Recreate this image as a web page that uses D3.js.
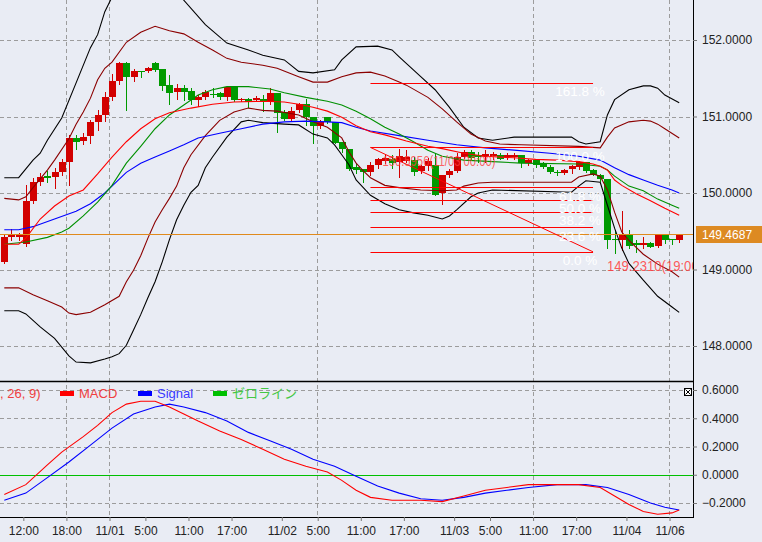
<!DOCTYPE html>
<html><head><meta charset="utf-8">
<script src="https://cdn.jsdelivr.net/npm/d3@7"></script>
<style>
html,body{margin:0;padding:0;background:#e9ecf4;}
svg{display:block;}
text{font-family:"Liberation Sans","Noto Sans CJK JP",sans-serif;}
</style></head><body>
<svg id="c" width="762" height="542"></svg>
<script>
// ---------- DATA (hourly USD/JPY candles, index 0..94) ----------
const opens = [149.10,149.42,149.43,149.33,149.90,150.15,150.22,150.21,150.28,150.41,
150.72,150.68,150.74,150.93,151.02,151.26,151.46,151.70,151.52,151.59,
151.59,151.70,151.62,151.41,151.32,151.37,151.33,151.22,151.25,151.30,
151.31,151.26,151.38,151.22,151.23,151.21,151.23,151.19,151.31,151.06,
150.97,151.08,151.16,151.00,150.88,151.00,150.93,150.67,150.58,150.34,
150.31,150.28,150.36,150.42,150.45,150.41,150.42,150.43,150.29,150.35,
150.37,150.00,150.24,150.29,150.47,150.53,150.50,150.47,150.48,150.50,
150.47,150.47,150.50,150.39,150.43,150.39,150.34,150.28,150.26,150.31,
150.34,150.40,150.30,150.24,150.18,149.40,149.39,149.47,149.34,149.32,
149.35,149.31,149.46,149.40,149.38];
const highs = [149.45,149.53,149.48,150.10,150.20,150.26,150.29,150.33,150.44,150.76,
150.76,150.78,150.96,151.08,151.32,151.56,151.71,151.71,151.62,151.59,
151.65,151.71,151.62,151.54,151.43,151.41,151.37,151.28,151.35,151.37,
151.32,151.40,151.38,151.24,151.24,151.27,151.28,151.37,151.31,151.08,
151.13,151.18,151.23,151.00,150.95,151.00,150.93,150.67,150.58,150.39,
150.31,150.40,150.46,150.50,150.50,150.58,150.56,150.47,150.36,150.46,
150.52,150.24,150.31,150.52,150.56,150.56,150.53,150.56,150.53,150.52,
150.52,150.52,150.50,150.45,150.45,150.41,150.36,150.30,150.31,150.37,
150.42,150.41,150.31,150.25,150.18,149.52,149.76,149.51,149.38,149.43,
149.36,149.47,149.46,149.40,149.47];
const lows = [149.09,149.39,149.39,149.31,149.87,150.10,150.15,150.07,150.24,150.10,
150.58,150.64,150.65,150.82,150.94,151.22,151.42,151.08,151.47,151.51,
151.58,151.59,151.34,151.16,151.23,151.21,151.16,151.14,151.23,151.25,
151.23,151.22,151.20,151.20,151.13,151.20,151.07,151.16,150.80,150.95,
150.95,151.06,150.89,150.66,150.85,150.91,150.65,150.53,150.30,150.26,
150.14,150.24,150.33,150.39,150.33,150.21,150.40,150.24,150.26,150.30,
149.97,149.85,150.21,150.27,150.46,150.44,150.41,150.41,150.45,150.44,
150.45,150.45,150.34,150.37,150.34,150.33,150.26,150.24,150.25,150.26,
150.32,150.28,150.23,150.16,149.28,149.21,149.25,149.28,149.23,149.28,
149.29,149.30,149.34,149.33,149.36];
const closes = [149.42,149.45,149.46,149.90,150.15,150.21,150.20,150.28,150.41,150.72,
150.67,150.73,150.93,151.02,151.26,151.46,151.70,151.51,151.59,151.58,
151.64,151.61,151.40,151.31,151.37,151.32,151.21,151.25,151.32,151.29,
151.25,151.38,151.21,151.23,151.19,151.24,151.19,151.31,151.05,150.97,
151.07,151.16,150.99,150.87,150.93,150.93,150.66,150.57,150.31,150.30,
150.27,150.36,150.44,150.46,150.39,150.48,150.47,150.27,150.35,150.42,
149.97,150.24,150.29,150.47,150.53,150.46,150.47,150.51,150.51,150.45,
150.50,150.50,150.39,150.43,150.37,150.34,150.27,150.26,150.30,150.35,
150.40,150.29,150.24,150.18,149.39,149.39,149.47,149.31,149.32,149.34,
149.30,149.46,149.39,149.38,149.4687];

// indicator lines: [candle index, value]
const bbUpper2 = [[0,150.20],[2,150.20],[4,150.43],[5,150.52],[6,150.69],[8,150.98],[10,151.44],[12,151.90],[13,152.07],[14,152.37],[15,152.56],[18,152.92],[21,152.98],[24,152.65],[25,152.52],[28,152.20],[31,151.96],[34,151.87],[36,151.80],[39,151.74],[41,151.59],[43,151.57],[46,151.61],[47,151.74],[49,151.91],[52,151.92],[54,151.87],[55,151.78],[58,151.52],[60,151.35],[62,151.12],[64,150.86],[66,150.72],[68,150.69],[71,150.73],[79,150.73],[80,150.67],[81,150.64],[83,150.67],[84,151.02],[85,151.22],[87,151.35],[89,151.40],[90,151.40],[91,151.37],[92,151.28],[94,151.18]];
const bbUpper1 = [[0,149.93],[2,149.91],[3,149.95],[4,150.07],[6,150.30],[7,150.43],[9,150.71],[10,150.90],[11,151.06],[12,151.24],[13,151.48],[14,151.63],[15,151.71],[17,151.97],[19,152.10],[21,152.18],[23,152.12],[25,152.08],[27,151.97],[29,151.87],[31,151.76],[33,151.71],[36,151.67],[38,151.63],[41,151.52],[43,151.45],[45,151.45],[47,151.52],[49,151.57],[51,151.58],[53,151.53],[55,151.45],[56,151.41],[59,151.25],[61,151.10],[63,150.93],[65,150.77],[67,150.68],[69,150.64],[72,150.63],[80,150.61],[83,150.59],[84,150.73],[85,150.85],[87,150.93],[89,150.95],[90,150.94],[91,150.90],[92,150.84],[94,150.72]];
const bbLower1 = [[0,148.76],[2,148.76],[4,148.67],[6,148.59],[8,148.51],[9,148.43],[10,148.41],[12,148.44],[14,148.54],[16,148.65],[17,148.84],[18,148.99],[19,149.18],[20,149.41],[21,149.62],[22,149.78],[23,149.93],[24,150.09],[25,150.33],[26,150.50],[28,150.75],[30,150.95],[32,151.06],[34,151.11],[36,151.08],[38,151.07],[41,151.02],[43,150.93],[45,150.86],[47,150.72],[48,150.54],[49,150.39],[50,150.29],[51,150.20],[53,150.10],[55,150.07],[58,150.04],[61,150.03],[63,150.04],[64,150.09],[66,150.13],[68,150.14],[79,150.14],[80,150.21],[82,150.25],[83,150.22],[84,150.04],[85,149.75],[86,149.49],[87,149.38],[89,149.20],[91,149.07],[93,148.97],[94,148.90]];
const bbLower2 = [[0,148.46],[2,148.46],[3,148.42],[5,148.25],[7,148.10],[9,147.87],[10,147.79],[12,147.78],[14,147.83],[15,147.86],[16,147.90],[17,148.01],[18,148.21],[19,148.41],[20,148.63],[21,148.84],[22,149.10],[23,149.39],[24,149.65],[25,149.84],[26,150.01],[27,150.10],[28,150.33],[29,150.47],[31,150.73],[33,150.93],[34,150.95],[36,150.92],[39,150.90],[41,150.89],[43,150.77],[45,150.72],[46,150.63],[47,150.50],[48,150.37],[49,150.17],[51,149.97],[53,149.86],[55,149.78],[57,149.74],[59,149.71],[61,149.66],[62,149.70],[63,149.78],[65,149.95],[66,150.00],[68,150.04],[79,150.01],[80,150.09],[81,150.16],[83,150.14],[84,149.84],[85,149.54],[86,149.28],[87,149.08],[89,148.86],[91,148.65],[93,148.51],[94,148.44]];
const maFast = [[0,149.33],[2,149.33],[3,149.41],[5,149.66],[7,149.83],[9,149.96],[11,150.04],[13,150.25],[15,150.47],[17,150.67],[19,150.84],[21,150.97],[23,151.05],[26,151.11],[29,151.16],[32,151.19],[36,151.20],[39,151.19],[41,151.16],[43,151.12],[45,151.07],[47,150.99],[49,150.88],[51,150.80],[53,150.76],[56,150.68],[59,150.61],[61,150.58],[64,150.52],[67,150.48],[71,150.46],[74,150.44],[77,150.43],[80,150.41],[82,150.38],[83,150.35],[84,150.30],[85,150.17],[86,150.10],[88,149.99],[90,149.90],[92,149.80],[94,149.71]];
const maMid = [[0,149.33],[3,149.36],[6,149.42],[8,149.49],[9,149.54],[11,149.70],[13,149.88],[15,150.10],[17,150.39],[19,150.61],[21,150.84],[23,151.02],[25,151.15],[27,151.28],[29,151.35],[31,151.39],[34,151.39],[37,151.36],[39,151.31],[42,151.25],[45,151.20],[47,151.15],[49,151.07],[51,150.97],[53,150.86],[55,150.77],[57,150.67],[59,150.56],[61,150.48],[64,150.43],[68,150.41],[72,150.39],[80,150.38],[83,150.35],[84,150.30],[85,150.22],[87,150.09],[89,150.03],[91,149.92],[93,149.84],[94,149.80]];
const maSlow = [[0,149.52],[2,149.52],[4,149.56],[7,149.66],[10,149.76],[12,149.86],[14,150.00],[15,150.09],[17,150.27],[19,150.39],[21,150.47],[23,150.55],[25,150.63],[27,150.72],[30,150.78],[33,150.84],[36,150.90],[39,150.93],[42,150.94],[45,150.93],[47,150.92],[49,150.86],[51,150.81],[55,150.75],[59,150.69],[63,150.63],[67,150.59],[71,150.56],[76,150.52],[80,150.48],[83,150.43],[85,150.33],[87,150.24],[89,150.17],[91,150.10],[93,150.04],[94,150.00]];

const macdLine = [[0,-0.14],[3,-0.07],[6,0.07],[8,0.16],[11,0.27],[13,0.35],[15,0.44],[17,0.50],[19,0.52],[21,0.52],[23,0.48],[25,0.43],[27,0.38],[30,0.31],[33,0.25],[36,0.18],[39,0.11],[42,0.06],[45,0.02],[47,-0.04],[49,-0.11],[51,-0.16],[54,-0.18],[58,-0.18],[61,-0.19],[64,-0.15],[67,-0.11],[70,-0.09],[73,-0.07],[77,-0.07],[80,-0.07],[83,-0.09],[85,-0.15],[87,-0.21],[89,-0.26],[91,-0.28],[93,-0.27],[94,-0.25]];
const signalLine = [[0,-0.18],[3,-0.13],[6,-0.02],[9,0.09],[12,0.21],[15,0.33],[18,0.43],[21,0.48],[23,0.50],[25,0.48],[28,0.44],[31,0.38],[34,0.30],[37,0.24],[40,0.18],[43,0.11],[46,0.06],[49,-0.01],[52,-0.08],[55,-0.13],[58,-0.17],[61,-0.18],[64,-0.16],[67,-0.13],[70,-0.11],[73,-0.09],[77,-0.07],[81,-0.07],[84,-0.09],[87,-0.14],[90,-0.20],[92,-0.23],[94,-0.25]];
const zeroLine = [0, 0];

const fibLevels = [0, 0.236, 0.382, 0.5, 0.618, 1.0, 1.618];
const fibLabels = ["0.0 %","23.6 %","38.2 %","50.0 %","61.8 %","100.0 %","161.8 %"];
const fibLow = 149.2310, fibHigh = 150.5956;
const fibStartIdx = 51, fibEndIdx = 82;
const fibHighText = "150.5956(11/03 00:00)";
const fibLowText = "149.2310(19:00)";
const lastPrice = 149.4687;

const priceTicks = [148, 149, 150, 151, 152];
const macdTicks = [-0.2, 0.0, 0.2, 0.4, 0.6];
const timeTickIdx = [3, 9, 15, 20, 26, 32, 39, 44, 50, 56, 63, 68, 74, 80, 87, 93];
const timeTickLabels = ["12:00","18:00","11/01","5:00","11:00","17:00","11/02","5:00","11:00","17:00","11/03","5:00","11:00","17:00","11/04","11/06"];
const gridIdx = [9, 15, 44, 74, 93];
const legendItems = [["MACD","#ff0000","#f04040"],["Signal","#0000ff","#3a3aff"],["ゼロライン","#00c000","#44c844"]];
const legendPrefix = ", 26, 9)";

// ---------- LAYOUT ----------
const W = 762, H = 542, plotR = 693, priceBottom = 381, macdTop = 382, macdBottom = 517;
const svg = d3.select('#c');
svg.append('rect').attr('width', W).attr('height', H).attr('fill', '#e9ecf4');

const xS = d3.scaleLinear().domain([0, 94]).range([4.3, 679.2]);
const yP = d3.scaleLinear().domain([148, 152]).range([346, 40]);
const yM = d3.scaleLinear().domain([-0.2, 0.6]).range([503, 390]);
const px = i => Math.round(xS(i));

const defs = svg.append('defs');
defs.append('clipPath').attr('id','cp').append('rect').attr('x',0).attr('y',0).attr('width',plotR).attr('height',priceBottom);
defs.append('clipPath').attr('id','cm').append('rect').attr('x',0).attr('y',macdTop).attr('width',plotR).attr('height',macdBottom-macdTop);

const gridColor = '#9c9c9c', dash = '4,3';
svg.append('g').selectAll('line').data(priceTicks).join('line')
  .attr('x1',0).attr('x2',plotR).attr('y1',d=>Math.round(yP(d))+0.5).attr('y2',d=>Math.round(yP(d))+0.5)
  .attr('stroke',gridColor).attr('stroke-dasharray',dash);
svg.append('g').selectAll('line').data(macdTicks.filter(d=>d!==0)).join('line')
  .attr('x1',0).attr('x2',plotR).attr('y1',d=>Math.round(yM(d))+0.5).attr('y2',d=>Math.round(yM(d))+0.5)
  .attr('stroke',gridColor).attr('stroke-dasharray',dash);
svg.append('g').selectAll('line').data(gridIdx).join('line')
  .attr('x1',d=>px(d)-2.5).attr('x2',d=>px(d)-2.5).attr('y1',0).attr('y2',macdBottom)
  .attr('stroke',gridColor).attr('stroke-dasharray',dash);

// ---------- PRICE PANE ----------
const gp = svg.append('g').attr('clip-path','url(#cp)');
const idx = d3.range(opens.length);
const up = i => closes[i] >= opens[i];
const cRed = '#d20000', cGreen = '#009a00';
gp.append('g').selectAll('line').data(idx).join('line')
  .attr('x1',i=>px(i)+0.5).attr('x2',i=>px(i)+0.5)
  .attr('y1',i=>Math.round(yP(highs[i]))).attr('y2',i=>Math.round(yP(lows[i]))+1)
  .attr('stroke',i=>up(i)?cRed:cGreen);
gp.append('g').selectAll('rect').data(idx).join('rect')
  .attr('x',i=>px(i)-3).attr('width',7)
  .attr('y',i=>Math.round(yP(Math.max(opens[i],closes[i]))))
  .attr('height',i=>Math.max(1,Math.round(yP(Math.min(opens[i],closes[i])))-Math.round(yP(Math.max(opens[i],closes[i])))))
  .attr('fill',i=>up(i)?cRed:cGreen);

const lineP = d3.line().x(d=>xS(d[0])).y(d=>yP(d[1]));
[[bbUpper2,'#000000'],[bbLower2,'#000000'],[bbUpper1,'#8b0000'],[bbLower1,'#8b0000'],
 [maSlow,'#0000ff'],[maMid,'#009000'],[maFast,'#ff0000']].forEach(([d,c])=>{
  gp.append('path').attr('d',lineP(d)).attr('fill','none').attr('stroke',c).attr('stroke-width',1.1);
});

gp.append('line').attr('x1',0).attr('x2',plotR).attr('y1',Math.round(yP(lastPrice))+0.5).attr('y2',Math.round(yP(lastPrice))+0.5)
  .attr('stroke','#e08a1c').attr('stroke-width',1);

// fibonacci
const fx1 = xS(fibStartIdx), fx2 = xS(fibEndIdx);
const fibY = l => yP(fibLow + l*(fibHigh-fibLow));
const gf = gp.append('g');
gf.selectAll('line.f').data(fibLevels).join('line')
  .attr('x1',fx1).attr('x2',fx2).attr('y1',d=>Math.round(fibY(d))+0.5).attr('y2',d=>Math.round(fibY(d))+0.5)
  .attr('stroke','#ff0000').attr('stroke-width',1);
gf.append('line').attr('x1',fx1).attr('y1',yP(fibHigh)).attr('x2',fx2).attr('y2',yP(fibLow))
  .attr('stroke','#ff0000').attr('stroke-width',1);
gf.selectAll('text.fl').data(fibLevels).join('text')
  .attr('x',580).attr('y',d=>fibY(d)+13.5).attr('text-anchor','middle')
  .attr('font-size',13.5).attr('fill','#ffffff').text((d,i)=>fibLabels[i]);
gf.append('text').attr('x',fx1+12).attr('y',yP(fibHigh)+19).attr('font-size',14)
  .attr('fill','#ff3c3c').attr('fill-opacity',0.8).attr('textLength',113).attr('lengthAdjust','spacingAndGlyphs').text(fibHighText);
gf.append('text').attr('x',fx2+14).attr('y',yP(fibLow)+19).attr('font-size',14)
  .attr('fill','#ff3c3c').attr('fill-opacity',0.85).attr('textLength',96).attr('lengthAdjust','spacingAndGlyphs').text(fibLowText);

// ---------- MACD PANE ----------
const gm = svg.append('g').attr('clip-path','url(#cm)');
gm.append('line').attr('x1',0).attr('x2',plotR).attr('y1',Math.round(yM(zeroLine[0]))+0.5).attr('y2',Math.round(yM(zeroLine[1]))+0.5)
  .attr('stroke','#00c000').attr('stroke-width',1);
const lineM = d3.line().x(d=>xS(d[0])).y(d=>yM(d[1]));
gm.append('path').attr('d',lineM(signalLine)).attr('fill','none').attr('stroke','#0000ff').attr('stroke-width',1.1);
gm.append('path').attr('d',lineM(macdLine)).attr('fill','none').attr('stroke','#ff0000').attr('stroke-width',1.1);

const lg = svg.append('g').attr('font-size',13);
lg.append('text').attr('x',0).attr('y',398).attr('fill','#f04040').text(legendPrefix);
const legX = [60, 138, 213];
legendItems.forEach((d,i)=>{
  lg.append('rect').attr('x',legX[i]).attr('y',391).attr('width',14).attr('height',5).attr('fill',d[1]);
  lg.append('text').attr('x',legX[i]+19).attr('y',398).attr('fill',d[2]).text(d[0]);
});
svg.append('rect').attr('x',684.5).attr('y',388.5).attr('width',7).attr('height',7).attr('fill','#fff').attr('stroke','#000');
svg.append('path').attr('d','M685.5,389.5L690.5,394.5M690.5,389.5L685.5,394.5').attr('stroke','#000');

// ---------- FRAME & AXES ----------
svg.append('line').attr('x1',0).attr('x2',plotR+1).attr('y1',381.5).attr('y2',381.5).attr('stroke','#000').attr('stroke-width',1.5);
svg.append('line').attr('x1',0).attr('x2',plotR+1).attr('y1',macdBottom+0.5).attr('y2',macdBottom+0.5).attr('stroke','#000');
svg.append('line').attr('x1',plotR+0.5).attr('x2',plotR+0.5).attr('y1',0).attr('y2',macdBottom+1).attr('stroke','#000');

function styleAxis(g){
  g.select('.domain').remove();
  g.selectAll('.tick line').attr('stroke','#777');
  g.selectAll('.tick text').attr('fill','#222').attr('font-size',12).attr('font-family','"Liberation Sans",sans-serif');
}
svg.append('g').attr('transform',`translate(${plotR},0)`)
  .call(d3.axisRight(yP).tickValues(priceTicks).tickFormat(d3.format('.4f')).tickSize(4).tickPadding(5))
  .call(styleAxis);
svg.append('g').attr('transform',`translate(${plotR},0)`)
  .call(d3.axisRight(yM).tickValues(macdTicks).tickFormat(d3.format('.4f')).tickSize(4).tickPadding(5))
  .call(styleAxis);

svg.append('rect').attr('x',696).attr('y',Math.round(yP(lastPrice))-8).attr('width',66).attr('height',17).attr('fill','#dd8a22');
svg.append('text').attr('x',702).attr('y',Math.round(yP(lastPrice))+5).attr('font-size',12).attr('fill','#fff').text(d3.format('.4f')(lastPrice));

svg.append('g').attr('transform',`translate(-2.5,${macdBottom})`)
  .call(d3.axisBottom(xS).tickValues(timeTickIdx).tickFormat((d,i)=>timeTickLabels[i]).tickSize(4).tickPadding(5))
  .call(styleAxis);
</script>
</body></html>
